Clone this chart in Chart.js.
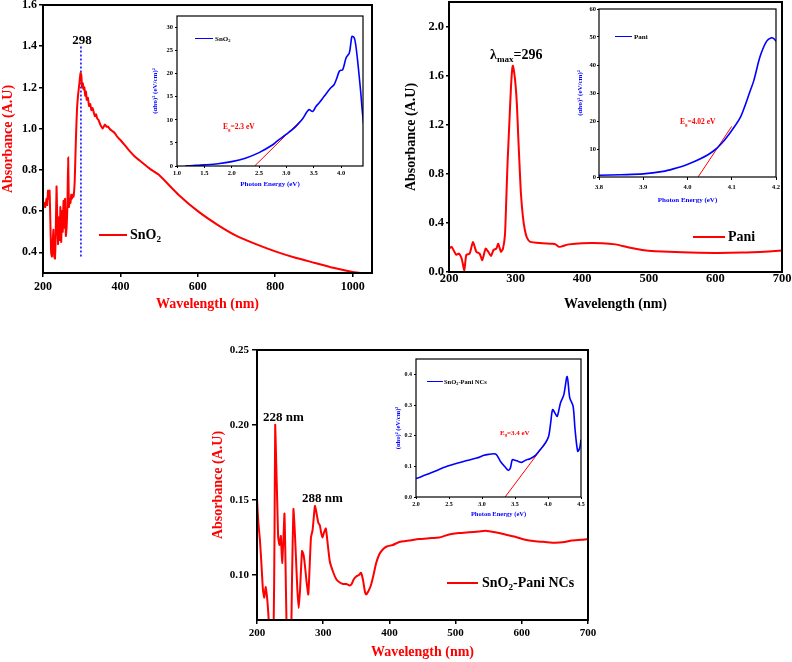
<!DOCTYPE html>
<html>
<head>
<meta charset="utf-8">
<script src="https://cdn.jsdelivr.net/npm/chart.js@4.4.1/dist/chart.umd.min.js"></script>
<style>
  body { margin: 0; background: #fff; width: 792px; height: 662px; position: relative; overflow: hidden;
         font-family: 'Liberation Serif', 'Times New Roman', serif; font-weight: bold; }
  canvas { position: absolute; }
  .txt { position: absolute; white-space: nowrap; line-height: 1; transform: translateY(-50%); }
  .txt sub { font-size: 0.65em; vertical-align: -0.35em; line-height: 0; }
  .key { position: absolute; height: 0; }
</style>
</head>
<body>
<script>
// ---- SnO2 absorbance (top left) ----
const sno2Wavelength = [200, 203, 206, 209, 211, 213, 215, 217, 219, 221, 223, 225, 227, 229, 231, 233, 235, 237, 239, 241,
    243, 245, 247, 249, 251, 253, 255, 257, 259, 261, 263, 265, 267, 269, 271, 273, 275, 277, 279, 282, 285, 288, 291,
    294, 297, 299, 301, 303, 305, 307, 309, 311, 313, 316, 319, 322, 325, 328, 331, 334, 337, 340, 344, 348, 351, 354,
    357, 360, 364, 368, 372, 378, 385, 392, 400, 420, 440, 460, 480, 500, 550, 600, 650, 700, 750, 800, 850, 900, 950,
    1000, 1020];
const sno2Absorbance = [0.61, 0.64, 0.62, 0.66, 0.63, 0.70, 0.66, 0.70, 0.55, 0.40, 0.38, 0.45, 0.51, 0.38, 0.37, 0.50,
    0.72, 0.55, 0.44, 0.57, 0.46, 0.62, 0.45, 0.60, 0.50, 0.65, 0.52, 0.66, 0.48, 0.52, 0.62, 0.86, 0.62, 0.66, 0.64,
    0.68, 0.66, 0.68, 0.67, 0.75, 0.95, 1.10, 1.17, 1.22, 1.27, 1.26, 1.20, 1.22, 1.19, 1.20, 1.16, 1.18, 1.14, 1.15,
    1.11, 1.12, 1.09, 1.10, 1.08, 1.06, 1.07, 1.05, 1.04, 1.02, 1.01, 1.00, 1.01, 1.02, 1.01, 1.01, 1.00, 0.99, 0.98,
    0.96, 0.945, 0.90, 0.86, 0.83, 0.80, 0.775, 0.68, 0.60, 0.535, 0.48, 0.44, 0.405, 0.375, 0.35, 0.325, 0.305, 0.30];
const sno2PeakLine = [[298, 0.38], [298, 1.40]];
const sno2XTicks = [200, 400, 600, 800, 1000];
const sno2YTicks = [0.4, 0.6, 0.8, 1.0, 1.2, 1.4, 1.6];

// SnO2 Tauc plot (inset)
const sno2Energy = [1.15, 1.3, 1.5, 1.75, 2.0, 2.25, 2.5, 2.75, 2.83, 3.0, 3.15, 3.23, 3.3, 3.41, 3.48, 3.54, 3.6, 3.69,
    3.8, 3.87, 3.92, 3.97, 4.03, 4.09, 4.15, 4.18, 4.2, 4.24, 4.27, 4.3, 4.33, 4.36, 4.38, 4.41];
const sno2Tauc = [0, 0.1, 0.25, 0.5, 0.95, 1.7, 2.9, 4.6, 5.4, 6.9, 8.3, 9.3, 10.3, 12.2, 11.8, 12.9, 13.7, 15.1, 16.8,
    17.6, 19.0, 20.6, 20.9, 23.4, 24.5, 26.8, 28.1, 27.8, 26.0, 23.0, 19.5, 15.8, 12.8, 9.1];
const sno2Fit = [[2.42, 0], [3.24, 9.6]];
const sno2TaucXTicks = [1.0, 1.5, 2.0, 2.5, 3.0, 3.5, 4.0];
const sno2TaucYTicks = [0, 5, 10, 15, 20, 25, 30];

// ---- Pani absorbance (top right) ----
const paniWavelength = [200, 204, 208, 211, 215, 219, 223, 226, 231, 236, 241, 246, 250, 255, 259, 263, 267, 271, 274,
    278, 281, 284, 286, 288, 291, 293, 295, 296, 298, 300, 302, 304, 306, 308, 311, 314, 317, 322, 340, 355, 360, 365,
    370, 380, 400, 430, 450, 470, 490, 510, 550, 600, 640, 680, 700];
const paniAbsorbance = [0.19, 0.205, 0.165, 0.14, 0.15, 0.11, 0.015, 0.14, 0.15, 0.245, 0.165, 0.15, 0.097, 0.19, 0.165,
    0.13, 0.18, 0.19, 0.23, 0.165, 0.19, 0.30, 0.59, 0.90, 1.26, 1.50, 1.66, 1.68, 1.62, 1.52, 1.36, 1.10, 0.86, 0.64,
    0.45, 0.34, 0.28, 0.245, 0.235, 0.23, 0.225, 0.205, 0.21, 0.225, 0.235, 0.235, 0.225, 0.20, 0.18, 0.17, 0.16, 0.155,
    0.158, 0.168, 0.175];
const paniXTicks = [200, 300, 400, 500, 600, 700];
const paniYTicks = [0.0, 0.4, 0.8, 1.2, 1.6, 2.0];

// Pani Tauc plot (inset)
const paniEnergy = [3.8, 3.85, 3.9, 3.945, 3.968, 3.998, 4.028, 4.058, 4.081, 4.104, 4.12, 4.13, 4.14, 4.15, 4.164,
    4.179, 4.19, 4.195, 4.2];
const paniTauc = [0.6, 0.8, 1.1, 2.0, 2.9, 4.4, 6.4, 9.2, 12.7, 17.5, 21.5, 25.5, 30.0, 34.5, 43.0, 48.5, 49.7, 49.4, 48.5];
const paniFit = [[4.024, 0], [4.1, 18.1]];
const paniTaucXTicks = [3.8, 3.9, 4.0, 4.1, 4.2];
const paniTaucYTicks = [0, 10, 20, 30, 40, 50, 60];

// ---- SnO2-Pani NCs absorbance (bottom) ----
const ncWavelength = [200, 202, 204.5, 207, 209, 211, 213, 215, 217, 219, 222, 225, 226.5, 227.5, 229, 230.5, 232, 234,
    236, 238, 240, 241.5, 243, 244.5, 247, 251, 253, 255, 257, 259, 261, 263, 265, 268, 270, 272, 275, 277.5, 279,
    281.5, 284, 287.5, 290, 292.5, 295, 297, 299, 301, 304, 307, 310, 315, 320, 325, 330, 335, 340, 343, 346, 350, 354,
    357, 360, 363, 365, 368, 372, 376, 380, 385, 390, 396, 405, 415, 430, 445, 460, 475, 490, 505, 520, 535, 545, 560,
    575, 590, 605, 620, 635, 650, 665, 675, 690, 700];
const ncAbsorbance = [0.151, 0.135, 0.123, 0.105, 0.09, 0.085, 0.092, 0.086, 0.075, 0.06, 0.05, 0.06, 0.13, 0.20, 0.175,
    0.15, 0.125, 0.12, 0.126, 0.108, 0.125, 0.141, 0.11, 0.07, 0.05, 0.05, 0.10, 0.144, 0.13, 0.11, 0.09, 0.078, 0.09,
    0.116, 0.114, 0.108, 0.095, 0.087, 0.10, 0.125, 0.13, 0.146, 0.141, 0.135, 0.133, 0.128, 0.125, 0.128, 0.131, 0.12,
    0.109, 0.102, 0.097, 0.095, 0.094, 0.094, 0.093, 0.094, 0.097, 0.099, 0.10, 0.1015, 0.097, 0.089, 0.087, 0.089,
    0.093, 0.10, 0.108, 0.114, 0.117, 0.119, 0.12, 0.122, 0.123, 0.124, 0.1245, 0.125, 0.127, 0.128, 0.1285, 0.129,
    0.1295, 0.1285, 0.127, 0.1255, 0.1235, 0.1225, 0.122, 0.1215, 0.122, 0.123, 0.1235, 0.124];
const ncXTicks = [200, 300, 400, 500, 600, 700];
const ncYTicks = [0.10, 0.15, 0.20, 0.25];

// SnO2-Pani NCs Tauc plot (inset)
const ncEnergy = [2.0, 2.22, 2.47, 2.72, 2.92, 3.03, 3.1, 3.18, 3.22, 3.28, 3.35, 3.4, 3.43, 3.46, 3.5, 3.55, 3.6, 3.66,
    3.73, 3.81, 3.88, 3.96, 4.01, 4.04, 4.07, 4.11, 4.14, 4.19, 4.24, 4.29, 4.33, 4.38, 4.41, 4.45, 4.48, 4.5];
const ncTauc = [0.06, 0.078, 0.10, 0.116, 0.127, 0.136, 0.139, 0.141, 0.138, 0.116, 0.098, 0.087, 0.095, 0.122, 0.12,
    0.116, 0.113, 0.12, 0.125, 0.136, 0.154, 0.176, 0.198, 0.241, 0.285, 0.272, 0.263, 0.307, 0.334, 0.393, 0.323,
    0.296, 0.22, 0.149, 0.16, 0.187];
const ncFit = [[3.35, 0], [3.97, 0.178]];
const ncTaucXTicks = [2.0, 2.5, 3.0, 3.5, 4.0, 4.5];
const ncTaucYTicks = [0.0, 0.1, 0.2, 0.3, 0.4];

const SERIF = "'Liberation Serif', 'Times New Roman', serif";
const RED = '#ff0000';
const BLUE = '#0000ff';
const TAUC_TITLE = '(\u03B1h\u03C5)\u00B2 (eV/cm)\u00B2';

function points(xs, ys) {
    return xs.map((x, i) => ({ x: x, y: ys[i] }));
}

function pairs(list) {
    return list.map((p) => ({ x: p[0], y: p[1] }));
}

function curve(data, color, width, tension) {
    return { data: data, borderColor: color, borderWidth: width, pointRadius: 0, tension: tension, fill: false };
}

const framePlugin = {
    id: 'frame',
    afterDraw(chart, args, opts) {
        const a = chart.chartArea;
        const ctx = chart.ctx;
        ctx.save();
        ctx.strokeStyle = '#000';
        ctx.lineWidth = opts.width;
        ctx.strokeRect(a.left, a.top, a.right - a.left, a.bottom - a.top);
        ctx.restore();
    },
};

function axis(kind, spec, size, style) {
    return {
        type: 'linear',
        min: spec.min,
        max: spec.max,
        afterBuildTicks: (scale) => {
            scale.ticks = spec.ticks.map((v) => ({ value: v }));
        },
        afterFit: (scale) => {
            if (kind === 'x') scale.height = size;
            else scale.width = size;
        },
        border: { display: false },
        grid: {
            display: true,
            drawOnChartArea: false,
            drawTicks: spec.tick > 0,
            tickLength: spec.tick,
            color: '#000',
            lineWidth: style.tickWidth,
        },
        ticks: {
            color: '#000',
            padding: spec.pad,
            autoSkip: false,
            maxRotation: 0,
            font: { family: SERIF, size: style.tickSize, weight: 'bold' },
            callback: (v) => Number(v).toFixed(spec.digits),
        },
        title: {
            display: true,
            text: spec.title,
            color: style.titleColor,
            padding: 0,
            font: { family: SERIF, size: style.titleSize, weight: 'bold' },
        },
    };
}

function makeChart(box, plot, datasets, xSpec, ySpec, style) {
    const canvas = document.createElement('canvas');
    canvas.width = box.w;
    canvas.height = box.h;
    canvas.style.left = box.x + 'px';
    canvas.style.top = box.y + 'px';
    document.body.appendChild(canvas);

    new Chart(canvas.getContext('2d'), {
        type: 'line',
        data: { datasets: datasets },
        options: {
            responsive: false,
            animation: false,
            events: [],
            layout: {
                padding: { left: 0, bottom: 0, top: plot.top - box.y, right: box.x + box.w - plot.right },
            },
            plugins: { legend: { display: false }, tooltip: { enabled: false }, frame: { width: style.frame } },
            scales: {
                x: axis('x', xSpec, box.y + box.h - plot.bottom, style),
                y: axis('y', ySpec, plot.left - box.x, style),
            },
        },
        plugins: [framePlugin],
    });
}

function label(html, x, y, size, color, center) {
    const d = document.createElement('div');
    d.className = 'txt';
    d.innerHTML = html;
    d.style.left = x + 'px';
    d.style.top = y + 'px';
    d.style.fontSize = size + 'px';
    d.style.color = color;
    if (center) d.style.transform = 'translate(-50%, -50%)';
    document.body.appendChild(d);
}

function key(x1, x2, y, color, width) {
    const d = document.createElement('div');
    d.className = 'key';
    d.style.left = x1 + 'px';
    d.style.width = (x2 - x1) + 'px';
    d.style.top = (y - width / 2) + 'px';
    d.style.borderTop = width + 'px solid ' + color;
    document.body.appendChild(d);
}

// main charts
makeChart({ x: 0, y: -5, w: 384, h: 318 }, { left: 43, top: 5, right: 372, bottom: 273 },
    [
        curve(points(sno2Wavelength, sno2Absorbance), RED, 2, 0.15),
        Object.assign(curve(pairs(sno2PeakLine), BLUE, 1.5, 0), { borderDash: [2, 2] }),
    ],
    { min: 200, max: 1050, ticks: sno2XTicks, digits: 0, tick: 4, pad: 3, title: 'Wavelength (nm)' },
    { min: 0.3, max: 1.6, ticks: sno2YTicks, digits: 1, tick: 4, pad: 2, title: 'Absorbance (A.U)' },
    { tickSize: 12, titleSize: 14, titleColor: RED, tickWidth: 1.5, frame: 2 });

makeChart({ x: 403, y: -8, w: 389, h: 321 }, { left: 449, top: 2, right: 782, bottom: 272 },
    [curve(points(paniWavelength, paniAbsorbance), RED, 2, 0.2)],
    { min: 200, max: 700, ticks: paniXTicks, digits: 0, tick: 0, pad: -1, title: 'Wavelength (nm)' },
    { min: 0, max: 2.2, ticks: paniYTicks, digits: 1, tick: 3, pad: 2, title: 'Absorbance (A.U)' },
    { tickSize: 12.5, titleSize: 14, titleColor: '#000', tickWidth: 1.5, frame: 2 });

makeChart({ x: 210, y: 340, w: 390, h: 321 }, { left: 257, top: 350, right: 588, bottom: 620 },
    [curve(points(ncWavelength, ncAbsorbance), RED, 2, 0.15)],
    { min: 200, max: 700, ticks: ncXTicks, digits: 0, tick: 4, pad: 3, title: 'Wavelength (nm)' },
    { min: 0.07, max: 0.25, ticks: ncYTicks, digits: 2, tick: 5, pad: 3, title: 'Absorbance (A.U)' },
    { tickSize: 11, titleSize: 14, titleColor: RED, tickWidth: 1.5, frame: 2 });

// insets
makeChart({ x: 151, y: 8, w: 220, h: 180 }, { left: 177, top: 16, right: 363, bottom: 166 },
    [curve(points(sno2Energy, sno2Tauc), BLUE, 1.6, 0.3), curve(pairs(sno2Fit), RED, 1, 0)],
    { min: 1.0, max: 4.4, ticks: sno2TaucXTicks, digits: 1, tick: 2, pad: 1, title: 'Photon Energy (eV)' },
    { min: 0, max: 32.5, ticks: sno2TaucYTicks, digits: 0, tick: 2, pad: 2, title: TAUC_TITLE },
    { tickSize: 6.5, titleSize: 7, titleColor: BLUE, tickWidth: 1, frame: 1.2 });

makeChart({ x: 576, y: 1, w: 208, h: 203 }, { left: 599, top: 9, right: 776, bottom: 177 },
    [curve(points(paniEnergy, paniTauc), BLUE, 1.6, 0.3), curve(pairs(paniFit), RED, 1, 0)],
    { min: 3.8, max: 4.2, ticks: paniTaucXTicks, digits: 1, tick: 3, pad: 3, title: 'Photon Energy (eV)' },
    { min: 0, max: 60, ticks: paniTaucYTicks, digits: 0, tick: 2, pad: 1, title: TAUC_TITLE },
    { tickSize: 6.5, titleSize: 7, titleColor: BLUE, tickWidth: 1, frame: 1.2 });

makeChart({ x: 394, y: 351, w: 195, h: 167 }, { left: 416, top: 359, right: 581, bottom: 497 },
    [curve(points(ncEnergy, ncTauc), BLUE, 1.6, 0.3), curve(pairs(ncFit), RED, 1, 0)],
    { min: 2.0, max: 4.5, ticks: ncTaucXTicks, digits: 1, tick: 2, pad: 2, title: 'Photon Energy (eV)' },
    { min: 0, max: 0.45, ticks: ncTaucYTicks, digits: 1, tick: 2, pad: 2, title: TAUC_TITLE },
    { tickSize: 6, titleSize: 6.5, titleColor: BLUE, tickWidth: 1, frame: 1.2 });

// annotations and keys
label('298', 82, 39, 13, '#000', true);
key(99, 127, 235, RED, 2.5);
label('SnO<sub>2</sub>', 130, 235, 14, '#000');
key(195, 213, 39, BLUE, 1.6);
label('SnO<sub>2</sub>', 215, 39, 7, '#000');
label('E<sub>g</sub>=2.3 eV', 223, 127, 7.5, RED);

label('\u03BB<sub>max</sub>=296', 490, 55, 14, '#000');
key(693, 725, 237, RED, 2.5);
label('Pani', 728, 237, 14, '#000');
key(615, 632, 37, BLUE, 1.6);
label('Pani', 634, 37, 7, '#000');
label('E<sub>g</sub>=4.02 eV', 680, 122, 7.5, RED);

label('228 nm', 263, 416, 13, '#000');
label('288 nm', 302, 497, 13, '#000');
key(447, 478, 583, RED, 2.5);
label('SnO<sub>2</sub>-Pani NCs', 482, 583, 14, '#000');
key(427, 443, 382, BLUE, 1.6);
label('SnO<sub>2</sub>-Pani NCs', 444, 382, 6.5, '#000');
label('E<sub>g</sub>=3.4 eV', 500, 433, 7, RED);
</script>
</body>
</html>
